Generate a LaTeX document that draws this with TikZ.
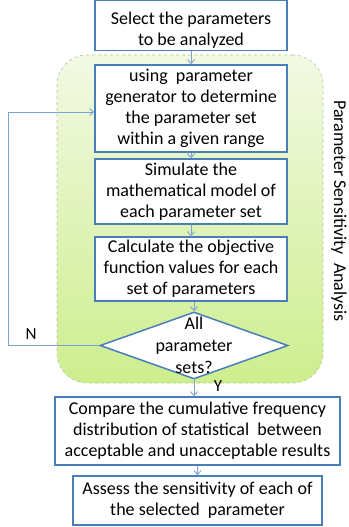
\documentclass[tikz,border=0pt]{standalone}
\usepackage{fontspec}
\setmainfont{Carlito}
\usetikzlibrary{shapes.geometric,arrows.meta}
\definecolor{bx}{HTML}{4A7EBB}
\definecolor{ar}{HTML}{7EA3D1}
\definecolor{gtop}{HTML}{F3F9E4}
\definecolor{gmid}{HTML}{E4F5C4}
\definecolor{gbot}{HTML}{CDEE8E}
\definecolor{gline}{HTML}{B3C79A}
\tikzset{
  stepbox/.style={draw=bx, line width=1.5pt, fill=white, rectangle, inner sep=2pt,
    align=center, font=\fontsize{18}{21}\selectfont},
  arr/.style={draw=ar, line width=0.9pt, -{Straight Barb[length=4pt,width=7pt]}},
  lbl/.style={font=\fontsize{17}{20}\selectfont}
}
\begin{document}
\begin{tikzpicture}[x=1pt,y=-1pt]
\useasboundingbox (0,0) rectangle (348,527);
\node[draw=gline, dashed, line width=0.6pt, rounded corners=30pt, top color=gtop, middle color=gmid, bottom color=gbot,
  minimum width=266pt, minimum height=328pt, inner sep=0pt] (grp) at (190,219) {};
\node[stepbox, minimum width=192pt, minimum height=45pt] (b1) at (191,25.5) {\rule{0pt}{22pt}Select the parameters\\to be analyzed};
\node[stepbox, minimum width=192pt, minimum height=87pt] (b2) at (191,108.5) {using\ \ parameter\\generator to determine\\the parameter set\\within a given range};
\node[stepbox, minimum width=192pt, minimum height=65pt] (b3) at (191,191.5) {Simulate the\\mathematical model of\\each parameter set};
\node[stepbox, minimum width=192pt, minimum height=64pt] (b4) at (191,269) {Calculate the objective\\function values for each\\set of parameters};
\node[diamond, draw=bx, line width=1.5pt, fill=white, minimum width=188pt, minimum height=67pt, inner sep=0pt] (d) at (194,345.5) {};
\node[align=center, font=\fontsize{18}{22}\selectfont] (dt) at (d.center) {All\\parameter\\sets?};
\node[stepbox, minimum width=285pt, minimum height=68pt] (b5) at (197.5,431) {Compare the cumulative frequency\\distribution of statistical\ \ between\\acceptable and unacceptable results};
\node[stepbox, minimum width=249pt, minimum height=49pt] (b6) at (197.5,500.5) {Assess the sensitivity of each of\\the selected\ \ parameter};
\node[font=\fontsize{18}{20}\selectfont, rotate=-90] (side) at (339,211) {Parameter Sensitivity\ \ Analysis};
\node[lbl] (nl) at (31,334) {N};
\node[lbl] (yl) at (218,386) {Y};
\draw[arr] (b1) -- (b2);
\draw[arr] (b2) -- (b3);
\draw[arr] (b3) -- (b4);
\draw[arr] (b4.south -| d.north) -- (d.north);
\draw[arr] (d.south) -- (d.south |- b5.north);
\draw[arr] (b5.south -| b6.north) -- (b6.north);
\coordinate (cn) at (8,345.5);
\draw[arr] (d.west) -- (cn) |- ([yshift=-3.5pt]b2.west);
\end{tikzpicture}
\end{document}
